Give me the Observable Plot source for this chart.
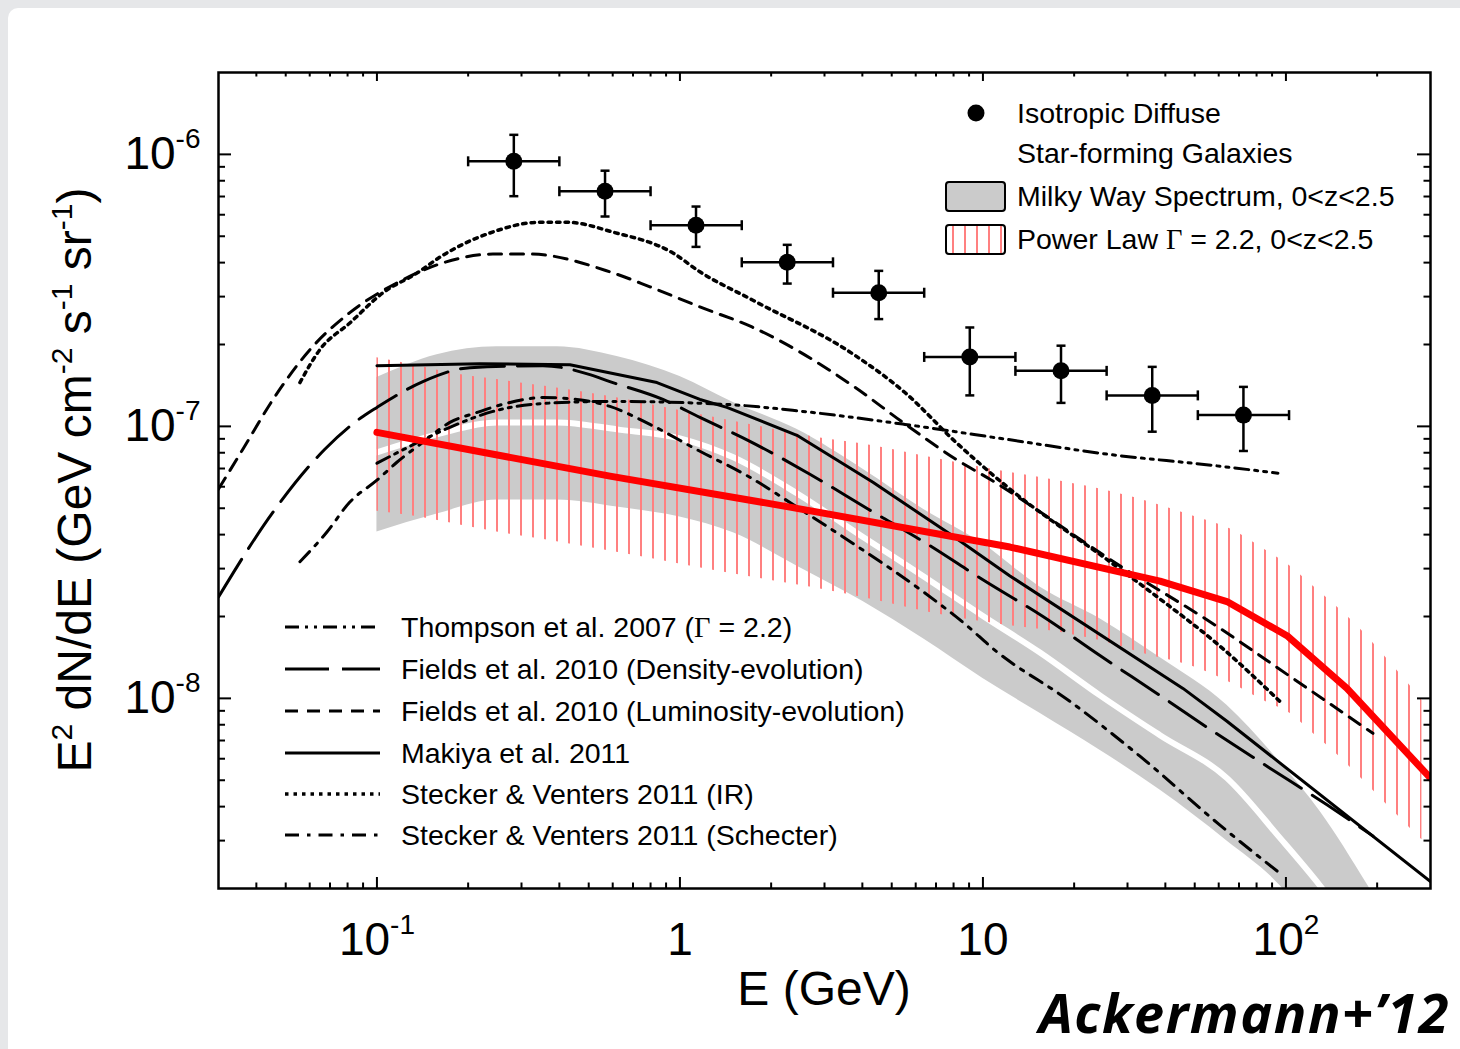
<!DOCTYPE html>
<html>
<head>
<meta charset="utf-8">
<title>Star-forming galaxies and the isotropic gamma-ray background</title>
<script src="https://cdn.jsdelivr.net/npm/d3@7"></script>
<script src="https://cdn.jsdelivr.net/npm/@observablehq/plot@0.6"></script>
<style>
  html, body { margin: 0; padding: 0; }
  body { width: 1460px; height: 1049px; position: relative; overflow: hidden; background: #e6e7e9; }
  #sheet { position: absolute; left: 8px; top: 8px; width: 1452px; height: 1041px; background: #fff; border-top-left-radius: 10px; }
  #chart { position: absolute; left: 0; top: 0; }
</style>
</head>
<body>
<div id="sheet"></div>
<div id="chart"></div>
<script>
// ---- Isotropic diffuse gamma-ray background (energy bins in GeV, E^2 dN/dE) ----
const isoBinLo = [0.2, 0.4, 0.8, 1.6, 3.2, 6.4, 12.8, 25.6, 51.2];
const isoBinHi = [0.4, 0.8, 1.6, 3.2, 6.4, 12.8, 25.6, 51.2, 102.4];
const isoE     = [0.283, 0.566, 1.13, 2.26, 4.53, 9.05, 18.1, 36.2, 72.4];
const isoFlux  = [9.43e-7, 7.32e-7, 5.49e-7, 4.01e-7, 3.10e-7, 1.80e-7, 1.60e-7, 1.30e-7, 1.10e-7];
const isoUp    = [1.18e-6, 8.71e-7, 6.43e-7, 4.65e-7, 3.73e-7, 2.31e-7, 1.98e-7, 1.655e-7, 1.397e-7];
const isoDown  = [7.02e-7, 5.91e-7, 4.57e-7, 3.35e-7, 2.48e-7, 1.30e-7, 1.22e-7, 9.56e-8, 8.12e-8];

// ---- Star-forming galaxies: Milky Way spectrum template, 0<z<2.5 (two sub-bands) ----
const mwE   = [0.1, 0.158, 0.249, 0.393, 0.62, 1.0, 1.5, 2.43, 4.02, 6.34, 10.0, 15.42, 24.33, 38.4, 63.88, 95.55, 129.5, 186.5, 240];
const mwHi  = [1.511e-7, 1.835e-7, 1.963e-7, 1.963e-7, 1.805e-7, 1.524e-7, 1.224e-7, 9.75e-8, 6.96e-8, 4.97e-8, 3.70e-8, 2.57e-8, 1.963e-8, 1.413e-8, 9.43e-9, 5.83e-9, 3.85e-9, 2.05e-9, 1.27e-9];
const mwMid = [8.03e-8, 9.35e-8, 1.034e-7, 1.034e-7, 9.75e-8, 9.04e-8, 7.70e-8, 5.68e-8, 3.92e-8, 2.82e-8, 2.01e-8, 1.474e-8, 1.026e-8, 7.32e-9, 5.09e-9, 3.07e-9, 2.05e-9, 1.18e-9, 7.96e-10];
const mwLo  = [4.09e-8, 4.76e-8, 5.36e-8, 5.36e-8, 5.05e-8, 4.64e-8, 4.06e-8, 3.07e-8, 2.27e-8, 1.659e-8, 1.184e-8, 8.81e-9, 6.45e-9, 4.60e-9, 2.99e-9, 2.05e-9, 1.32e-9, 7.96e-10, 5.68e-10];

// ---- Star-forming galaxies: power law Gamma = 2.2, 0<z<2.5 (band and central curve) ----
const plE  = [0.1, 0.1315, 0.1879, 0.2489, 0.364, 0.5875, 1.079, 1.702, 2.685, 4.238, 6.686, 11.64, 16.64, 24.33, 34.77, 49.33, 65.36, 86.56, 103.1, 122.8, 147.3, 178.2, 215.4, 256.6, 281.1];
const plHi = [1.789e-7, 1.686e-7, 1.550e-7, 1.486e-7, 1.401e-7, 1.288e-7, 1.125e-7, 1.017e-7, 9.19e-8, 8.52e-8, 7.70e-8, 6.84e-8, 6.39e-8, 5.88e-8, 5.31e-8, 4.68e-8, 4.20e-8, 3.48e-8, 3.07e-8, 2.59e-8, 2.17e-8, 1.774e-8, 1.40e-8, 1.116e-8, 9.83e-9];
const plLo = [4.88e-8, 4.68e-8, 4.34e-8, 4.09e-8, 3.82e-8, 3.48e-8, 3.07e-8, 2.80e-8, 2.57e-8, 2.32e-8, 2.07e-8, 1.866e-8, 1.774e-8, 1.631e-8, 1.45e-8, 1.31e-8, 1.145e-8, 9.67e-9, 8.81e-9, 7.44e-9, 6.23e-9, 5.05e-9, 4.06e-9, 3.34e-9, 3.02e-9];
const plLineE = [0.1, 0.5875, 2.307, 12.28, 38.4, 63.88, 100.8, 159.0, 300];
const plLineV = [9.51e-8, 6.56e-8, 5.05e-8, 3.60e-8, 2.70e-8, 2.27e-8, 1.70e-8, 1.088e-8, 5.09e-9];

// ---- Model predictions ----
const thompsonE = [0.1, 0.1285, 0.1741, 0.2415, 0.3531, 0.5875, 1.429, 2.546, 5.528, 12.0, 26.05, 56.56, 94.11];
const thompsonV = [7.32e-8, 8.45e-8, 9.92e-8, 1.135e-7, 1.214e-7, 1.235e-7, 1.204e-7, 1.135e-7, 1.017e-7, 8.96e-8, 7.89e-8, 7.20e-8, 6.73e-8];

const fieldsDensE = [0.03, 0.0454, 0.0673, 0.0899, 0.1, 0.1418, 0.2027, 0.3531, 0.5046, 0.5875, 0.879, 1.164, 1.702, 2.685, 4.174, 6.535, 10.15, 15.78, 24.33, 37.52, 57.43, 88.56, 136.6, 193.7];
const fieldsDensV = [2.36e-8, 4.84e-8, 8.24e-8, 1.088e-7, 1.174e-7, 1.461e-7, 1.644e-7, 1.672e-7, 1.550e-7, 1.461e-7, 1.256e-7, 1.079e-7, 8.81e-8, 6.67e-8, 4.97e-8, 3.70e-8, 2.70e-8, 2.00e-8, 1.437e-8, 1.043e-8, 7.57e-9, 5.54e-9, 4.06e-9, 3.12e-9];

const fieldsLumE = [0.03, 0.0361, 0.0454, 0.0601, 0.0814, 0.1164, 0.1651, 0.2415, 0.3198, 0.5875, 0.7962, 1.164, 1.729, 3.752, 5.445, 8.146, 10.55, 28.32, 57.43, 105.5, 193.7];
const fieldsLumV = [5.88e-8, 8.24e-8, 1.256e-7, 1.914e-7, 2.62e-7, 3.37e-7, 3.99e-7, 4.30e-7, 4.30e-7, 3.70e-7, 3.26e-7, 2.75e-7, 2.32e-7, 1.401e-7, 1.034e-7, 7.57e-8, 6.39e-8, 3.07e-8, 1.882e-8, 1.184e-8, 7.44e-9];

const makiyaE = [0.1, 0.2187, 0.4335, 0.8397, 1.164, 1.429, 2.433, 4.335, 7.784, 12.28, 45.73, 63.88, 300];
const makiyaV = [1.672e-7, 1.701e-7, 1.686e-7, 1.449e-7, 1.256e-7, 1.174e-7, 9.27e-8, 6.23e-8, 4.02e-8, 2.82e-8, 1.088e-8, 8.24e-9, 2.12e-9];

const steckerIrE = [0.0557, 0.0648, 0.0814, 0.1047, 0.1355, 0.1614, 0.236, 0.3451, 0.4237, 0.601, 0.9482, 1.164, 1.729, 3.752, 5.528, 8.146, 12.28, 26.25, 38.4, 59.21, 97.74];
const steckerIrV = [1.449e-7, 1.914e-7, 2.40e-7, 3.10e-7, 3.66e-7, 4.19e-7, 5.14e-7, 5.63e-7, 5.63e-7, 5.18e-7, 4.34e-7, 3.70e-7, 2.92e-7, 1.835e-7, 1.332e-7, 8.74e-8, 5.88e-8, 3.18e-8, 2.32e-8, 1.590e-8, 9.51e-9];

const steckerSchE = [0.0557, 0.0684, 0.0814, 0.1, 0.1164, 0.1418, 0.1741, 0.2138, 0.2748, 0.3531, 0.4571, 0.5875, 0.7962, 1.164, 1.702, 2.433, 3.838, 6.339, 8.855, 10.79, 19.37, 32.97, 60.57, 97.74];
const steckerSchV = [3.18e-8, 4.09e-8, 5.27e-8, 6.34e-8, 7.38e-8, 8.74e-8, 1.034e-7, 1.125e-7, 1.224e-7, 1.277e-7, 1.256e-7, 1.184e-7, 1.017e-7, 8.10e-8, 6.50e-8, 5.05e-8, 3.63e-8, 2.47e-8, 1.851e-8, 1.524e-8, 9.75e-9, 6.13e-9, 3.42e-9, 2.23e-9];

// ---- Axis ticks and labels ----
const xMajor = [0.1, 1, 10, 100];
const xMajorText = ["10^-1", "1", "10", "10^2"];
const xMinor = [0.04, 0.05, 0.06, 0.07, 0.08, 0.09, 0.2, 0.3, 0.4, 0.5, 0.6, 0.7, 0.8, 0.9,
                2, 3, 4, 5, 6, 7, 8, 9, 20, 30, 40, 50, 60, 70, 80, 90, 200];
const yMajor = [1e-8, 1e-7, 1e-6];
const yMajorText = ["10^-8", "10^-7", "10^-6"];
const yMinor = [3e-9, 4e-9, 5e-9, 6e-9, 7e-9, 8e-9, 9e-9, 2e-8, 3e-8, 4e-8, 5e-8, 6e-8, 7e-8, 8e-8, 9e-8,
                2e-7, 3e-7, 4e-7, 5e-7, 6e-7, 7e-7, 8e-7, 9e-7];

// ---- Build tables ----
const pairs = (E, V) => E.map((e, i) => ({E: e, V: V[i]}));
const iso = isoE.map((E, i) => ({E, flux: isoFlux[i], up: isoUp[i], down: isoDown[i], e0: isoBinLo[i], e1: isoBinHi[i]}));
const mw = mwE.map((E, i) => ({E, hi: mwHi[i], mid: mwMid[i], lo: mwLo[i]}));
const pl = plE.map((E, i) => ({E, hi: plHi[i], lo: plLo[i]}));
const plLine = pairs(plLineE, plLineV);

const models = [
  {label: "Thompson et al. 2007 (Γ = 2.2)", data: pairs(thompsonE, thompsonV), dash: "14,6,3,6,3,6", width: 3, curve: "monotone-x"},
  {label: "Fields et al. 2010 (Density-evolution)", data: pairs(fieldsDensE, fieldsDensV), dash: "44,13", width: 3, curve: "monotone-x"},
  {label: "Fields et al. 2010 (Luminosity-evolution)", data: pairs(fieldsLumE, fieldsLumV), dash: "13,9", width: 3, curve: "monotone-x"},
  {label: "Makiya et al. 2011", data: pairs(makiyaE, makiyaV), dash: null, width: 3, curve: "linear"},
  {label: "Stecker & Venters 2011 (IR)", data: pairs(steckerIrE, steckerIrV), dash: "3.5,5", width: 3.5, curve: "monotone-x"},
  {label: "Stecker & Venters 2011 (Schecter)", data: pairs(steckerSchE, steckerSchV), dash: "14,8,3.5,8", width: 3, curve: "monotone-x"}
];

const FONT = '"Liberation Sans", Arial, Helvetica, sans-serif';
const HATCH = "#ff8080";

// short horizontal and vertical bars used as error-bar caps
const capH = {draw(c) { c.moveTo(-4.5, 0); c.lineTo(4.5, 0); }};
const capV = {draw(c) { c.moveTo(0, -5); c.lineTo(0, 5); }};

const frameH = 1049 - 72 - 161;
const frameW = 1460 - 218 - 30;

const plot = Plot.plot({
  width: 1460,
  height: 1049,
  marginLeft: 218,
  marginRight: 30,
  marginTop: 72,
  marginBottom: 161,
  style: {background: "transparent", fontFamily: FONT, color: "black", overflow: "visible"},
  x: {type: "log", domain: [0.03, 300]},
  y: {type: "log", domain: [2e-9, 2e-6]},
  marks: [
    // Milky Way template band, split by a thin white gap
    Plot.areaY(mw, {x: "E", y1: "lo", y2: "hi", fill: "#cbcbcb", curve: "monotone-x", clip: true}),
    Plot.line(mw, {x: "E", y: "mid", stroke: "white", strokeWidth: 6, curve: "monotone-x", clip: true}),
    // power-law band, hatched
    Plot.areaY(pl, {x: "E", y1: "lo", y2: "hi", fill: "url(#plHatch)", curve: "monotone-x", clip: true}),
    // model curves
    ...models.map(m => Plot.line(m.data, {
      x: "E", y: "V", stroke: "black", strokeWidth: m.width,
      strokeDasharray: m.dash, curve: m.curve, clip: true
    })),
    // power-law central curve
    Plot.line(plLine, {x: "E", y: "V", stroke: "#ff0000", strokeWidth: 7, clip: true}),
    // isotropic diffuse measurements
    Plot.ruleX(iso, {x: "E", y1: "down", y2: "up", stroke: "black", strokeWidth: 2.5}),
    Plot.ruleY(iso, {y: "flux", x1: "e0", x2: "e1", stroke: "black", strokeWidth: 2.5}),
    Plot.dot(iso, {x: "E", y: "up", symbol: capH, fill: "none", stroke: "black", strokeWidth: 2.5}),
    Plot.dot(iso, {x: "E", y: "down", symbol: capH, fill: "none", stroke: "black", strokeWidth: 2.5}),
    Plot.dot(iso, {x: "e0", y: "flux", symbol: capV, fill: "none", stroke: "black", strokeWidth: 2.5}),
    Plot.dot(iso, {x: "e1", y: "flux", symbol: capV, fill: "none", stroke: "black", strokeWidth: 2.5}),
    Plot.dot(iso, {x: "E", y: "flux", r: 8.5, fill: "black", stroke: "none"}),
    // inward ticks on all four sides
    Plot.tickX(xMajor, {x: d => d, insetTop: frameH - 11, strokeWidth: 2}),
    Plot.tickX(xMinor, {x: d => d, insetTop: frameH - 5.5, strokeWidth: 2}),
    Plot.tickX(xMajor, {x: d => d, insetBottom: frameH - 9, strokeWidth: 2}),
    Plot.tickX(xMinor, {x: d => d, insetBottom: frameH - 4.5, strokeWidth: 2}),
    Plot.tickY(yMajor, {y: d => d, insetRight: frameW - 13, strokeWidth: 2}),
    Plot.tickY(yMinor, {y: d => d, insetRight: frameW - 7, strokeWidth: 2}),
    Plot.tickY(yMajor, {y: d => d, insetLeft: frameW - 13, strokeWidth: 2}),
    Plot.tickY(yMinor, {y: d => d, insetLeft: frameW - 6.5, strokeWidth: 2}),
    Plot.axisX(xMajor, {anchor: "bottom", tickSize: 0, tickPadding: 34, fontSize: 46, label: null,
      tickFormat: d => xMajorText[xMajor.indexOf(d)]}),
    Plot.axisY(yMajor, {anchor: "left", tickSize: 0, tickPadding: 18, fontSize: 46, label: null,
      tickFormat: d => yMajorText[yMajor.indexOf(d)]}),
    Plot.frame({stroke: "black", strokeWidth: 2.5})
  ]
});

document.getElementById("chart").appendChild(plot);
const svg = d3.select(plot);

// hatch pattern for the power-law band (vertical light-red lines every 12 px)
const pat = svg.insert("defs", ":first-child").append("pattern")
  .attr("id", "plHatch").attr("patternUnits", "userSpaceOnUse")
  .attr("x", 0).attr("y", 0).attr("width", 12).attr("height", 12);
pat.append("rect").attr("x", 4).attr("y", 0).attr("width", 2).attr("height", 12).attr("fill", HATCH);

// powers of ten as superscripts in tick labels
svg.selectAll('[aria-label="x-axis tick label"] text, [aria-label="y-axis tick label"] text').each(function () {
  const s = this.textContent;
  const k = s.indexOf("^");
  if (k < 0) return;
  const t = d3.select(this);
  t.text(s.slice(0, k));
  t.append("tspan").attr("dy", -21).attr("font-size", 28).text(s.slice(k + 1));
});

// axis titles
svg.append("text")
  .attr("x", 824).attr("y", 1005).attr("text-anchor", "middle")
  .attr("font-family", FONT).attr("font-size", 48).text("E (GeV)");

const yt = svg.append("text")
  .attr("transform", "translate(91,480) rotate(-90)").attr("text-anchor", "middle")
  .attr("font-family", FONT).attr("font-size", 48);
[["E", 0], ["2", 1], [" dN/dE (GeV cm", 0], ["-2", 1], [" s", 0], ["-1", 1], [" sr", 0], ["-1", 1], [")", 0]]
  .forEach(([s, sup], i, arr) => {
    const prevSup = i > 0 && arr[i - 1][1];
    const ts = yt.append("tspan").text(s);
    if (sup) ts.attr("dy", -19).attr("font-size", 30);
    else if (prevSup) ts.attr("dy", 19);
  });

// legend: measurements and star-forming galaxy bands (upper right)
const lg = svg.append("g").attr("font-family", FONT).attr("font-size", 28.5).attr("text-anchor", "start");
const rowText = (g, x, y, parts) => {
  const t = g.append("text").attr("x", x).attr("y", y).attr("dy", "0.36em").attr("text-anchor", "start");
  parts.forEach(p => {
    const ts = t.append("tspan").text(p.text);
    if (p.serif) ts.attr("font-family", '"Liberation Serif", "Times New Roman", serif');
  });
};
lg.append("circle").attr("cx", 976).attr("cy", 113).attr("r", 8.5).attr("fill", "black");
rowText(lg, 1017, 113, [{text: "Isotropic Diffuse"}]);
rowText(lg, 1017, 153, [{text: "Star-forming Galaxies"}]);
lg.append("rect").attr("x", 946).attr("y", 182).attr("width", 59).attr("height", 29).attr("rx", 3)
  .attr("fill", "#cbcbcb").attr("stroke", "black").attr("stroke-width", 2);
rowText(lg, 1017, 196, [{text: "Milky Way Spectrum, 0<z<2.5"}]);
lg.append("rect").attr("x", 946).attr("y", 225).attr("width", 59).attr("height", 29).attr("rx", 3)
  .attr("fill", "url(#plHatch)").attr("stroke", "black").attr("stroke-width", 2);
rowText(lg, 1017, 239, [{text: "Power Law "}, {text: "Γ", serif: true}, {text: " = 2.2, 0<z<2.5"}]);

// legend: model curves (lower left)
const rows = [627, 669, 711, 753, 794, 835];
models.forEach((m, i) => {
  lg.append("line").attr("x1", 285).attr("x2", 380).attr("y1", rows[i]).attr("y2", rows[i])
    .attr("stroke", "black").attr("stroke-width", m.width).attr("stroke-dasharray", m.dash);
  const k = m.label.indexOf("Γ");
  if (k < 0) rowText(lg, 401, rows[i], [{text: m.label}]);
  else rowText(lg, 401, rows[i], [{text: m.label.slice(0, k)}, {text: "Γ", serif: true}, {text: m.label.slice(k + 1)}]);
});

// citation
svg.append("text").attr("x", 1450).attr("y", 1033).attr("text-anchor", "end")
  .attr("font-family", '"Open Sans", sans-serif').attr("font-style", "italic").attr("font-weight", 700)
  .attr("font-size", 54).attr("letter-spacing", 1.5).text("Ackermann+’12");
svg.append("text").attr("x", -10).attr("y", 1030).attr("font-family", FONT).attr("font-size", 48).text(")");
</script>
</body>
</html>
